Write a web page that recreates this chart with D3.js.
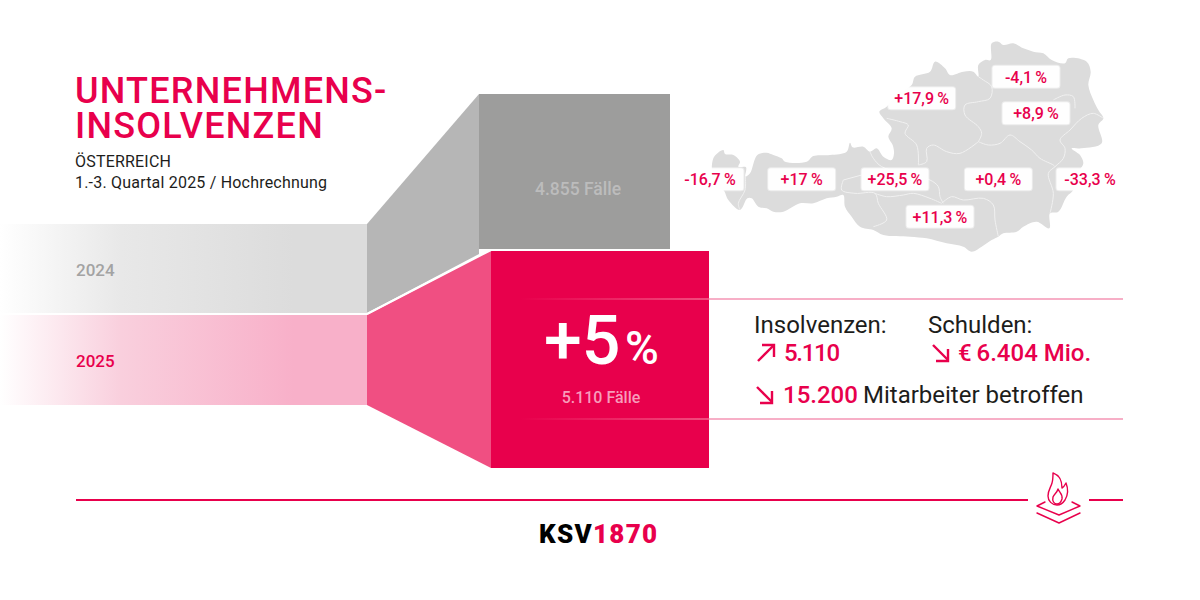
<!DOCTYPE html>
<html>
<head>
<meta charset="utf-8">
<script src="https://cdn.jsdelivr.net/npm/d3@7"></script>
<style>
body { margin: 0; background: #fff; }
text { font-family: Roboto, sans-serif; }
</style>
</head>
<body>
<div id="chart"></div>
<script>
// data
const years = ['2024', '2025'];
const cases = [4855, 5110];
const states = ['Vorarlberg', 'Tirol', 'Salzburg', 'Oberösterreich', 'Niederösterreich', 'Wien', 'Steiermark', 'Burgenland', 'Kärnten'];
const stateChange = [-16.7, 17, 25.5, 17.9, -4.1, 8.9, 0.4, -33.3, 11.3];
// label anchors and outline in map units
const stateLabelX = [120, 395, 675, 755, 1068, 1098, 985, 1260, 810];
const stateLabelY = [448, 448, 448, 205, 140, 250, 448, 448, 560];
const austriaOutline = [[160,360],[165,372],[190,375],[210,395],[205,410],[228,412],[226,440],[240,430],[262,375],[290,368],[310,375],[335,385],[345,395],[410,395],[430,378],[480,375],[530,365],[540,338],[548,352],[580,350],[600,365],[620,355],[640,380],[665,390],[672,370],[668,345],[655,320],[665,295],[640,265],[628,245],[650,230],[680,195],[725,165],[735,140],[780,125],[795,95],[825,115],[840,135],[880,125],[910,125],[925,140],[925,105],[945,90],[962,90],[965,40],[985,35],[1000,45],[1030,40],[1060,55],[1090,65],[1120,70],[1145,90],[1185,100],[1195,85],[1250,95],[1262,125],[1255,165],[1270,210],[1285,240],[1300,265],[1285,285],[1295,340],[1235,355],[1205,355],[1230,375],[1240,400],[1230,420],[1210,480],[1190,500],[1165,545],[1140,550],[1138,595],[1100,575],[1060,590],[1040,605],[1000,610],[985,620],[965,630],[935,650],[905,665],[880,650],[830,640],[770,625],[720,620],[640,615],[610,600],[570,590],[545,560],[525,530],[520,495],[500,500],[470,505],[430,520],[390,520],[340,545],[310,545],[290,535],[265,530],[245,505],[232,505],[210,540],[175,510],[160,480],[135,470],[130,385]];
const stateBorders = [
  [[925,140],[940,150],[965,170],[960,205],[925,215],[885,225],[885,255],[925,290],[935,310],[925,335]],
  [[650,265],[690,275],[715,285],[705,310],[740,345],[745,405]],
  [[925,335],[870,370],[830,365],[790,345],[770,355],[770,395],[745,405]],
  [[925,335],[955,345],[990,340],[1020,315],[1050,335],[1085,360],[1110,385],[1150,405],[1155,410]],
  [[1300,265],[1270,250],[1235,265],[1200,300],[1170,330],[1185,355],[1180,385],[1155,410],[1135,430],[1150,490],[1140,550]],
  [[1150,210],[1185,195],[1210,200],[1215,235]],
  [[600,365],[610,385],[635,410],[700,430],[780,450],[805,470],[810,500],[820,520]],
  [[615,490],[650,500],[700,495],[730,490],[780,505],[815,520]],
  [[520,450],[515,480],[555,490],[615,490],[625,520],[650,570],[610,590]],
  [[520,450],[575,435]],
  [[815,520],[845,500],[880,510],[940,505],[970,525],[975,570],[985,620]],
  [[226,440],[225,480],[205,520],[210,540]]
];

const insolvencies = 5110;
const debts = 6404;
const staff = 15200;

const PINK = '#e8004c';
const INK = '#1d1d1b';

const de = d3.formatLocale({ decimal: ',', thousands: '.', grouping: [3], currency: ['€', ''], minus: '-' });
const fmtInt = de.format(',');
const fmtChange = de.format('+~g');

const svg = d3.select('#chart').append('svg')
  .attr('width', 1200)
  .attr('height', 600)
  .style('display', 'block');

const defs = svg.append('defs');

function fade(id, from, mid, to) {
  const g = defs.append('linearGradient').attr('id', id);
  g.append('stop').attr('offset', 0).attr('stop-color', from);
  g.append('stop').attr('offset', 0.33).attr('stop-color', mid);
  g.append('stop').attr('offset', 0.8).attr('stop-color', to);
}
fade('bandGrey', '#ffffff', '#e8e8e8', '#dcdcdc');
fade('bandPink', '#ffffff', '#f9cfdd', '#f8b0c9');
const innerLine = defs.append('linearGradient').attr('id', 'innerLine');
innerLine.append('stop').attr('offset', 0).attr('stop-color', '#f4658f').attr('stop-opacity', 0);
innerLine.append('stop').attr('offset', 1).attr('stop-color', '#f4658f').attr('stop-opacity', 1);

// funnel shapes: box sizes follow the case counts through two scales
const boxH = d3.scaleLinear().domain(cases).range([155, 218]);
const boxW = d3.scaleLinear().domain(cases).range([191, 218]);
const boxX = d3.scaleOrdinal().domain(years).range([479, 491]);
const boxY = d3.scaleOrdinal().domain(years).range([94, 250]);
const bandY = d3.scaleOrdinal().domain(years).range([224, 315]);
const bandH = d3.scaleOrdinal().domain(years).range([89, 90]);
const labelY = d3.scaleOrdinal().domain(years).range([276, 367]);
const wedgeX = 367;

const line = d3.line();

const rows = years.map((y, i) => ({ year: y, cases: cases[i] }));
const bandFill = { '2024': 'url(#bandGrey)', '2025': 'url(#bandPink)' };
const wedgeFill = { '2024': '#b6b6b6', '2025': '#f04f82' };
const boxFill = { '2024': '#9d9d9c', '2025': PINK };

svg.selectAll('.band').data(rows).enter().append('rect')
  .attr('class', 'band')
  .attr('x', 0)
  .attr('y', d => bandY(d.year))
  .attr('width', wedgeX)
  .attr('height', d => bandH(d.year))
  .attr('fill', d => bandFill[d.year]);

svg.selectAll('.wedge').data(rows).enter().append('path')
  .attr('class', 'wedge')
  .attr('fill', d => wedgeFill[d.year])
  .attr('d', d => {
    const x = boxX(d.year), t = boxY(d.year), b = t + boxH(d.cases);
    // the grey wedge runs on behind the pink one
    const lower = d.year === '2024' ? 254 : b;
    return line([[wedgeX, bandY(d.year)], [x, t], [x, lower], [wedgeX, bandY(d.year) + bandH(d.year)]]) + 'Z';
  });

svg.selectAll('.box').data(rows).enter().append('rect')
  .attr('class', 'box')
  .attr('x', d => boxX(d.year))
  .attr('y', d => boxY(d.year))
  .attr('width', d => boxW(d.cases))
  .attr('height', d => boxH(d.cases))
  .attr('fill', d => boxFill[d.year]);

// white seam between the two wedges
svg.append('path')
  .attr('d', line([[wedgeX, 314], [491, 250], [709, 250]]))
  .attr('fill', 'none').attr('stroke', '#fff').attr('stroke-width', 2);

// rules right of the pink box
[299, 419].forEach(y => {
  svg.append('rect').attr('x', 520).attr('y', y - 0.75).attr('width', 189).attr('height', 1.5).attr('fill', 'url(#innerLine)');
  svg.append('line').attr('x1', 709).attr('x2', 1123).attr('y1', y).attr('y2', y)
    .attr('stroke', '#f495b5').attr('stroke-width', 1.6);
});

// headline
const title = svg.append('g').attr('fill', PINK).attr('font-size', 36).attr('font-weight', 500).attr('letter-spacing', 1.25);
title.append('text').attr('x', 75).attr('y', 103).text('UNTERNEHMENS-');
title.append('text').attr('x', 75).attr('y', 138).text('INSOLVENZEN');
const sub = svg.append('g').attr('font-size', 16).attr('letter-spacing', 0.2).attr('fill', INK);
sub.append('text').attr('x', 75).attr('y', 167).text('ÖSTERREICH');
sub.append('text').attr('x', 75).attr('y', 188).text('1.-3. Quartal 2025 / Hochrechnung');

// year labels and case counts
svg.selectAll('.year').data(rows).enter().append('text')
  .attr('class', 'year')
  .attr('x', 76)
  .attr('y', d => labelY(d.year))
  .attr('font-size', 17).attr('font-weight', 500)
  .attr('fill', d => d.year === '2024' ? '#a3a3a3' : PINK)
  .text(d => d.year);

svg.append('text').attr('x', 578).attr('y', 195).attr('text-anchor', 'middle')
  .attr('font-size', 17.5).attr('font-weight', 500).attr('fill', '#bcbcbc').text(fmtInt(cases[0]) + ' Fälle');
svg.append('text').attr('x', 601).attr('y', 403).attr('text-anchor', 'middle')
  .attr('font-size', 16).attr('font-weight', 500).attr('fill', '#f79dbb').text(fmtInt(cases[1]) + ' Fälle');

const pct = Math.round((cases[1] / cases[0] - 1) * 100);
svg.append('text').attr('x', 544).attr('y', 364).attr('font-size', 68).attr('font-weight', 500)
  .attr('fill', '#fff').text('+' + pct);
svg.append('text').attr('x', 625).attr('y', 364).attr('font-size', 46).attr('font-weight', 500)
  .attr('fill', '#fff').text('%');

// map of Austria
const mapX = d3.scaleLinear().domain([0, 1380]).range([670, 1130]);
const mapY = d3.scaleLinear().domain([0, 690]).range([30, 260]);
const mapLine = d3.line().x(d => mapX(d[0])).y(d => mapY(d[1])).curve(d3.curveCatmullRom.alpha(0.5));
const mapLoop = d3.line().x(d => mapX(d[0])).y(d => mapY(d[1])).curve(d3.curveCatmullRomClosed.alpha(0.5));

svg.append('path').attr('d', mapLoop(austriaOutline)).attr('fill', '#dcdcdc');
svg.selectAll('.border').data(stateBorders).enter().append('path')
  .attr('class', 'border')
  .attr('d', mapLine)
  .attr('fill', 'none').attr('stroke', '#f1f1f1').attr('stroke-width', 1);

const tags = svg.selectAll('.tag').data(states).enter().append('g')
  .attr('class', 'tag')
  .attr('transform', (d, i) => `translate(${mapX(stateLabelX[i])},${mapY(stateLabelY[i])})`);
tags.append('rect')
  .attr('x', -33.5).attr('y', -11).attr('width', 67).attr('height', 22).attr('rx', 2.5)
  .attr('fill', '#fff').attr('fill-opacity', 0.95)
  .attr('stroke', '#fff').attr('stroke-opacity', 0.45).attr('stroke-width', 2);
tags.append('text')
  .attr('text-anchor', 'middle').attr('y', 6)
  .attr('font-size', 16).attr('font-weight', 500).attr('fill', PINK)
  .text((d, i) => fmtChange(stateChange[i]) + '\u2009%');

// key figures
const arrowUp = [[[758, 361], [773, 346]], [[762, 345], [774, 345], [774, 357]]];
const arrowDown = (ox, oy) => [[[ox, oy], [ox + 15, oy + 15]], [[ox + 15, oy + 4], [ox + 15, oy + 16], [ox + 3, oy + 16]]];
[arrowUp, arrowDown(933, 345), arrowDown(757, 387)].forEach(a => a.forEach(seg => {
  svg.append('path').attr('d', line(seg)).attr('fill', 'none').attr('stroke', PINK).attr('stroke-width', 2.4);
}));

const big = 24;
svg.append('text').attr('x', 754).attr('y', 333).attr('font-size', big).attr('fill', INK).text('Insolvenzen:');
svg.append('text').attr('x', 928).attr('y', 333).attr('font-size', big).attr('fill', INK).text('Schulden:');
svg.append('text').attr('x', 784).attr('y', 361).attr('font-size', big).attr('font-weight', 500).attr('letter-spacing', -1.3).attr('fill', PINK).text(fmtInt(insolvencies));
svg.append('text').attr('x', 958).attr('y', 361).attr('font-size', big).attr('font-weight', 500).attr('fill', PINK).text('€\u2009' + fmtInt(debts) + ' Mio.');
svg.append('text').attr('x', 783).attr('y', 403).attr('font-size', big).attr('font-weight', 500).attr('fill', PINK).text(fmtInt(staff));
svg.append('text').attr('x', 863).attr('y', 403).attr('font-size', big).attr('fill', INK).text('Mitarbeiter betroffen');

// footer
svg.append('line').attr('x1', 76).attr('x2', 1028).attr('y1', 500).attr('y2', 500).attr('stroke', PINK).attr('stroke-width', 2);
svg.append('line').attr('x1', 1089).attr('x2', 1123).attr('y1', 500).attr('y2', 500).attr('stroke', PINK).attr('stroke-width', 2);

const icon = svg.append('g').attr('fill', 'none').attr('stroke', PINK).attr('stroke-width', 1.4).attr('stroke-linejoin', 'round').attr('stroke-linecap', 'round');
icon.append('path').attr('d', 'M1053 473C1061 476 1062 482 1062 488C1064 487 1065 485 1066 483C1068 488 1068 495 1065 500C1063 503 1060 505 1057 505C1052 505 1048 501 1048 496C1048 490 1051 487 1052 483C1053 480 1053 476 1053 473Z');
icon.append('path').attr('d', 'M1058 489C1059 492 1063 494 1062 499C1061 502 1059 504 1057 504C1054 504 1052 501 1053 497C1054 494 1057 493 1058 489Z');
icon.append('path').attr('d', 'M1045 502L1037 506L1059 515L1080 506L1072 502');
icon.append('path').attr('d', 'M1037 513L1059 523L1080 513');

const logo = svg.append('text').attr('x', 539).attr('y', 543).attr('font-size', 26).attr('font-weight', 900).attr('letter-spacing', 1.3);
logo.append('tspan').attr('fill', '#000').text('KSV');
logo.append('tspan').attr('fill', PINK).text('1870');
</script>
</body>
</html>
